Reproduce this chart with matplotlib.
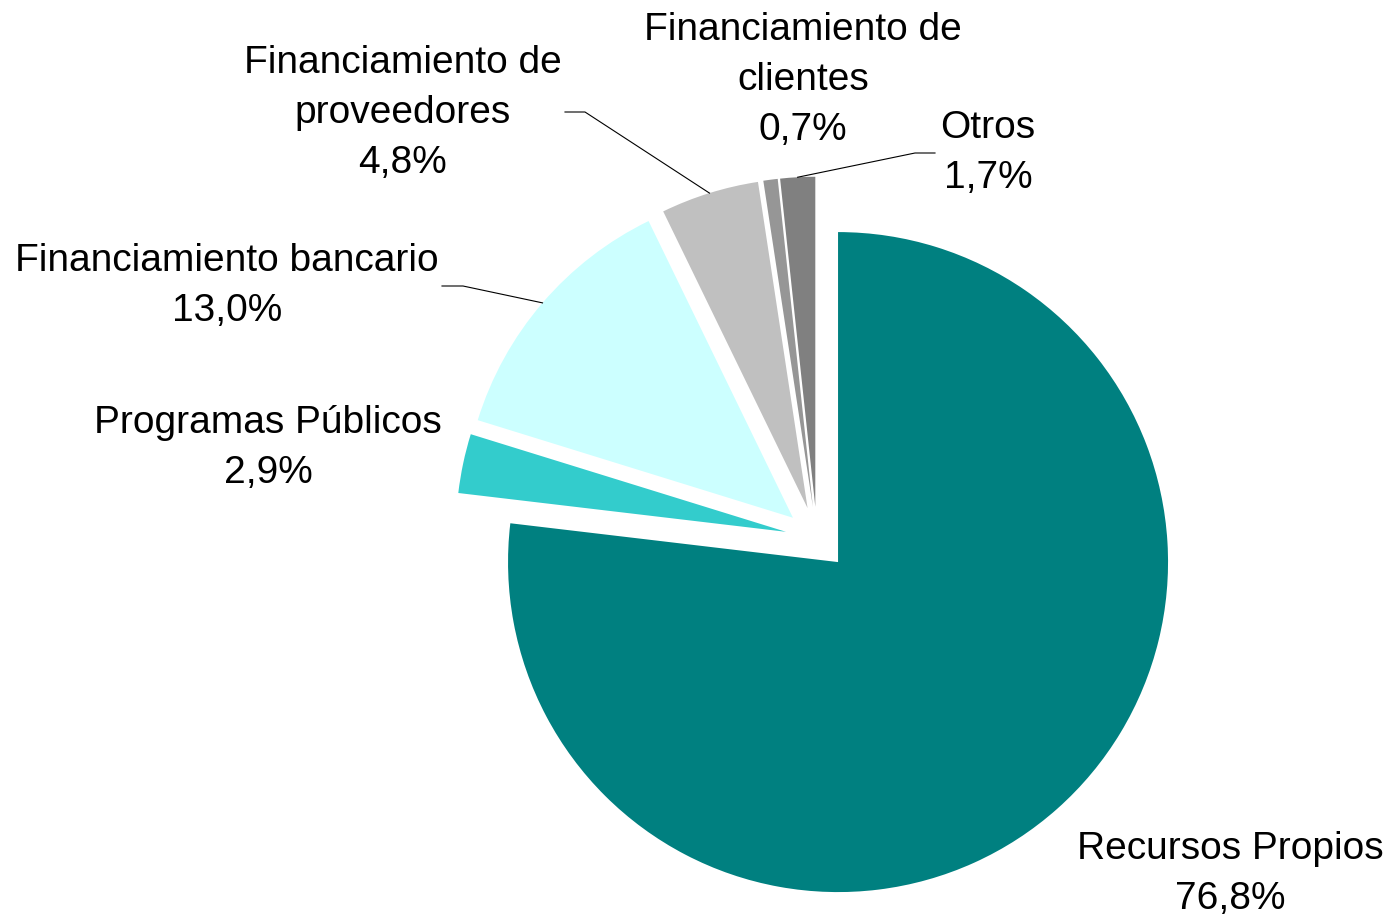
import numpy as np
import matplotlib; matplotlib.use("Agg")
import matplotlib.pyplot as plt

plt.rcParams["font.family"] = ["Liberation Sans", "DejaVu Sans"]

# data
categories = ["Recursos Propios", "Programas Públicos", "Financiamiento bancario",
              "Financiamiento de\nproveedores", "Financiamiento de\nclientes", "Otros"]
values = [76.8, 2.9, 13.0, 4.8, 0.7, 1.7]
colors = ["#008080", "#33CCCC", "#CCFFFF", "#C0C0C0", "#969696", "#808080"]

# layout (pixel frame of the 1390x918 canvas, pie radius 330 px)
W, H, R = 1390, 918, 330
CX, CY = 817, 538.4
LINE = 50  # px between label lines
def P(px, py): return ((px - CX) / R, (CY - py) / R)

label_pos = [(1230, 874), (268, 448), (227, 286), (403, 113), (803, 80), (988, 153)]
# leader elbows: (elbow, end) or None
leaders = [None, None, ((463, 286), (442, 286)), ((585, 112), (565, 112)),
           None, ((915, 153), (935, 153))]

fig = plt.figure(figsize=(W / 100, H / 100), dpi=100)
ax = fig.add_axes([0, 0, 1, 1])
wedges, _ = ax.pie(values, colors=colors, startangle=90, counterclock=False,
                   explode=[0.096] * len(values), radius=1,
                   wedgeprops=dict(linewidth=0))
x0, y0 = P(0, H); x1, y1 = P(W, 0)
ax.set_xlim(x0, x1); ax.set_ylim(y0, y1); ax.set_aspect("equal")
ax.axis("off")

for w, cat, v, pos, ld in zip(wedges, categories, values, label_pos, leaders):
    lines = (f"{cat}\n{v:.1f}".replace(".", ",") + "%").split("\n")
    n = len(lines)
    for i, s in enumerate(lines):
        ax.text(*P(pos[0], pos[1] + (i - (n - 1) / 2) * LINE), s,
                ha="center", va="center", fontsize=28)
    if ld is not None:
        tm = np.deg2rad((w.theta1 + w.theta2) / 2)
        ax_, ay_ = w.center[0] + w.r * np.cos(tm), w.center[1] + w.r * np.sin(tm)
        e, t = P(*ld[0]), P(*ld[1])
        ax.plot([ax_, e[0], t[0]], [ay_, e[1], t[1]], color="black", lw=0.8)

fig.savefig("out.png", dpi=100)
